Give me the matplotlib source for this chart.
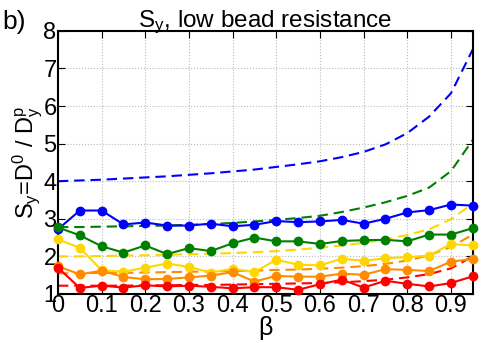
import matplotlib
matplotlib.use('Agg')
import matplotlib.pyplot as plt

plt.rcParams['font.family'] = ['Liberation Sans', 'DejaVu Sans']
plt.rcParams['mathtext.fontset'] = 'custom'
plt.rcParams['mathtext.rm'] = 'Liberation Sans'
plt.rcParams['mathtext.it'] = 'Liberation Sans'
plt.rcParams['mathtext.default'] = 'regular'

beta = [0.0, 0.05, 0.1, 0.15, 0.2, 0.25, 0.3, 0.35, 0.4, 0.45,
        0.5, 0.55, 0.6, 0.65, 0.7, 0.75, 0.8, 0.85, 0.9, 0.95]

# simulated points
blue_pts = [2.72, 3.22, 3.22, 2.85, 2.90, 2.82, 2.82, 2.87, 2.80, 2.84,
            2.94, 2.91, 2.93, 2.97, 2.87, 3.00, 3.17, 3.23, 3.38, 3.35]
green_pts = [2.77, 2.56, 2.27, 2.10, 2.29, 2.06, 2.22, 2.14, 2.35, 2.50,
             2.40, 2.40, 2.33, 2.41, 2.43, 2.44, 2.40, 2.58, 2.58, 2.75]
yellow_pts = [2.45, 2.23, 1.63, 1.59, 1.70, 1.81, 1.72, 1.57, 1.67, 1.58,
              1.91, 1.78, 1.76, 1.94, 1.88, 1.95, 1.98, 2.02, 2.33, 2.29]
orange_pts = [1.74, 1.52, 1.62, 1.45, 1.39, 1.40, 1.44, 1.49, 1.58, 1.33,
              1.48, 1.46, 1.46, 1.54, 1.51, 1.66, 1.64, 1.61, 1.86, 1.93]
red_pts = [1.70, 1.16, 1.22, 1.17, 1.23, 1.20, 1.22, 1.19, 1.15, 1.18,
           1.18, 1.11, 1.26, 1.38, 1.17, 1.35, 1.27, 1.20, 1.29, 1.47]

# theory curves (dashed)
blue_th = [4.00, 4.02, 4.04, 4.07, 4.10, 4.13, 4.17, 4.21, 4.26, 4.31,
           4.38, 4.45, 4.53, 4.64, 4.78, 4.98, 5.28, 5.72, 6.34, 7.51]
green_th = [2.78, 2.78, 2.79, 2.80, 2.81, 2.82, 2.84, 2.86, 2.89, 2.93,
            2.97, 3.02, 3.08, 3.18, 3.30, 3.44, 3.61, 3.83, 4.27, 5.10]
yellow_th = [2.00, 2.00, 2.01, 2.02, 2.03, 2.04, 2.06, 2.07, 2.09, 2.11,
             2.14, 2.18, 2.23, 2.29, 2.36, 2.45, 2.57, 2.72, 2.99, 3.40]
orange_th = [1.55, 1.55, 1.56, 1.56, 1.57, 1.58, 1.59, 1.60, 1.61, 1.62,
             1.64, 1.65, 1.67, 1.70, 1.74, 1.80, 1.89, 2.03, 2.25, 2.58]
red_th = [1.22, 1.22, 1.22, 1.22, 1.23, 1.23, 1.24, 1.24, 1.25, 1.26,
          1.27, 1.28, 1.29, 1.31, 1.34, 1.38, 1.44, 1.53, 1.68, 2.00]

colors = ['#0000ff', '#008000', '#ffd700', '#ff8c00', '#ff0000']
pts = [blue_pts, green_pts, yellow_pts, orange_pts, red_pts]
ths = [blue_th, green_th, yellow_th, orange_th, red_th]

fig = plt.figure(figsize=(4.91, 3.43), dpi=100)
ax = fig.add_axes([0.118, 0.143, 0.845, 0.767])

for c, th in zip(colors, ths):
    ax.plot(beta, th, '--', color=c, lw=1.5, dashes=(5, 2.8))
for c, p in zip(colors, pts):
    ax.plot(beta, p, '-o', color=c, lw=1.5, ms=6, clip_on=False, zorder=3)

ax.set_xlim(0, 0.95)
ax.set_ylim(1, 8)
ax.set_xticks([0, 0.1, 0.2, 0.3, 0.4, 0.5, 0.6, 0.7, 0.8, 0.9])
ax.set_xticklabels(['0', '0.1', '0.2', '0.3', '0.4', '0.5', '0.6', '0.7', '0.8', '0.9'])
ax.set_yticks(range(1, 9))
ax.tick_params(direction='in', top=True, right=True, labelsize=17, length=5, pad=1)
ax.grid(True, linestyle=':', color='#bbbbbb', lw=0.8)
for s in ax.spines.values():
    s.set_linewidth(1.5)

ax.set_title('S$_y$, low bead resistance', fontsize=17.5, pad=3)
ax.set_xlabel('β', fontsize=18, labelpad=-1)
ax.set_ylabel('S$_y$=D$^0$ / D$_y^p$', fontsize=17, labelpad=-1)
fig.text(0.005, 0.915, 'b)', fontsize=19)

fig.savefig('out.png', dpi=100)
